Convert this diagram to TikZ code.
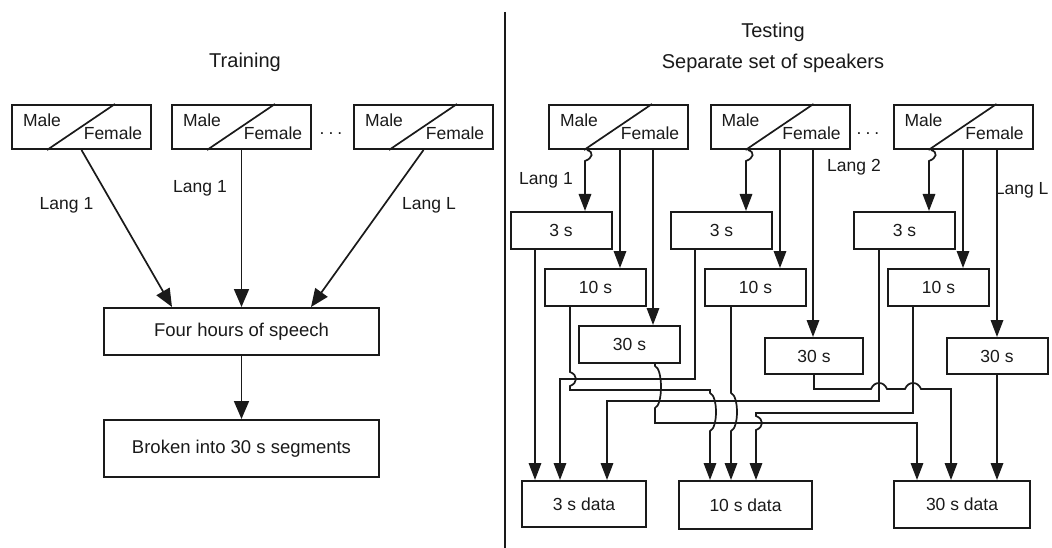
\documentclass[tikz,border=0pt]{standalone}
\usepackage{fontspec}
\setmainfont{Liberation Sans}
\usetikzlibrary{arrows.meta,calc}
\definecolor{ink}{HTML}{1A1A1A}
\begin{document}
\begin{tikzpicture}[x=1pt,y=-1pt,
  font=\fontsize{17.5}{21}\selectfont,
  every node/.style={text=ink},
  box/.style={draw=ink, line width=2pt, inner sep=0pt},
  spk/.style={box, minimum width=139pt, minimum height=44pt},
  seg/.style={box, minimum width=101pt, minimum height=37pt},
  wire/.style={draw=ink, line width=1.7pt},
  arr/.style={wire, -{Triangle[length=17pt,width=12.5pt]}},
  bigarr/.style={wire, -{Triangle[length=18pt,width=15pt]}},
  title/.style={font=\fontsize{20}{24}\selectfont},
  boxtext/.style={font=\fontsize{18.5}{22}\selectfont},
  vjump/.style args={#1/#2/#3}{insert path={-- (#1,#2) .. controls (#1+8,#2+3) and (#1+8,#3-3) .. (#1,#3)}},
  hjump/.style args={#1/#2}{insert path={-- (#1-8,#2) .. controls (#1-5,#2-8) and (#1+5,#2-8) .. (#1+8,#2)}},
]
\fill[white] (0,0) rectangle (1052,548);
\useasboundingbox (0,0) rectangle (1052,548);

% divider between the two halves
\coordinate (divtop) at (505,12);
\coordinate (divbot) at (505,548);
\draw[wire] (divtop) -- (divbot);

% titles
\node[title] (ttrain) at (245,62) {Training};
\node[title] (ttest) at (773,32) {Testing};
\node[title] (tsep) at (773,63) {Separate set of speakers};

% speaker boxes split into male / female
\foreach \n/\cx in {mf1/81.5, mf2/241.5, mf3/423.5, mfA/618.5, mfB/780, mfC/963} {
  \node[spk] (\n) at (\cx,127) {};
  \draw[wire] ($(\n.south west)+(36,0)$) -- ($(\n.north west)+(104,0)$);
  \node at ($(\n.north west)+(31,16)$) {Male};
  \node at ($(\n.north west)+(102,29)$) {Female};
}
\node (dotsL) at (331,134) {.\hspace{4pt}.\hspace{4pt}.};
\node (dotsR) at (868,134) {.\hspace{4pt}.\hspace{4pt}.};

% ---------------- training ----------------
\node[box, boxtext, minimum width=275pt, minimum height=47pt] (four) at (241.5,331.5) {Four hours of speech};
\node[box, boxtext, minimum width=275pt, minimum height=57pt] (broken) at (241.5,448.5) {Broken into 30 s segments};

\draw[bigarr] (mf1.south) -- (four.north -| 172,0);
\draw[bigarr] (mf2.south) -- (four.north);
\draw[bigarr] (mf3.south) -- (four.north -| 311,0);
\draw[bigarr] (four.south) -- (broken.north);

\node (ltr1) at (66.5,205) {Lang 1};
\node (ltr2) at (200,188) {Lang 1};
\node (ltrL) at (429,205) {Lang L};

% ---------------- testing ----------------
\node[seg] (s3A) at (561,230.5) {3 s};
\node[seg] (s3B) at (721.5,230.5) {3 s};
\node[seg] (s3C) at (904.5,230.5) {3 s};
\node[seg] (s10A) at (595.5,287.5) {10 s};
\node[seg] (s10B) at (755.5,287.5) {10 s};
\node[seg] (s10C) at (938.5,287.5) {10 s};
\node[seg] (s30A) at (629.5,344.5) {30 s};
\node[seg, minimum width=98pt, minimum height=36pt] (s30B) at (814,356) {30 s};
\node[seg, minimum height=36pt] (s30C) at (997,356) {30 s};

\node[box, minimum width=124pt, minimum height=46pt] (d3) at (584,504) {3 s data};
\node[box, minimum width=133pt, minimum height=48pt] (d10) at (745.5,505) {10 s data};
\node[box, minimum width=136pt, minimum height=47pt] (d30) at (962,504.5) {30 s data};

\node (lte1) at (546,180) {Lang 1};
\node (lte2) at (854,167) {Lang 2};
\node[anchor=east] (lteL) at (1052,190) {Lang L};

% speakers into the three segment lengths
\draw[arr] (mfA.south -| 587,0) .. controls (594,152) and (593,158) .. (585,161) -- (s3A.north -| 585,0);
\draw[arr] (mfA.south -| 620,0) -- (s10A.north -| 620,0);
\draw[arr] (mfA.south -| 653,0) -- (s30A.north -| 653,0);
\draw[arr] (mfB.south -| 748,0) .. controls (755,152) and (754,158) .. (746,161) -- (s3B.north -| 746,0);
\draw[arr] (mfB.south -| 780,0) -- (s10B.north -| 780,0);
\draw[arr] (mfB.south -| 813,0) -- (s30B.north -| 813,0);
\draw[arr] (mfC.south -| 931,0) .. controls (938,152) and (937,158) .. (929,161) -- (s3C.north -| 929,0);
\draw[arr] (mfC.south -| 963,0) -- (s10C.north -| 963,0);
\draw[arr] (mfC.south -| 997,0) -- (s30C.north -| 997,0);

% segments collected into the data sets
\draw[arr] (s3A.south -| 535,0) -- (d3.north -| 535,0);
\draw[arr] (s3B.south -| 695,0) -- (695,379) -- (560,379) -- (d3.north -| 560,0);
\draw[arr] (s3C.south -| 879,0) -- (879,401) -- (607,401) -- (d3.north -| 607,0);

\draw[arr] (s10A.south -| 570,0) [vjump=570/372/386] -- (570,390) -- (710,390) [vjump=710/393/431] -- (d10.north -| 710,0);
\draw[arr] (s10B.south -| 731,0) [vjump=731/393/431] -- (d10.north -| 731,0);
\draw[arr] (s10C.south -| 913,0) -- (913,413) -- (756,413) [vjump=756/416/430] -- (d10.north -| 756,0);

\draw[arr] (s30A.south -| 655,0) [vjump=655/366/408] -- (655,423) -- (917,423) -- (d30.north -| 917,0);
\draw[arr] (s30B.south -| 814,0) -- (814,389) [hjump=879/389] [hjump=913/389] -- (951,389) -- (d30.north -| 951,0);
\draw[arr] (s30C.south -| 997,0) -- (d30.north -| 997,0);

\end{tikzpicture}
\end{document}
